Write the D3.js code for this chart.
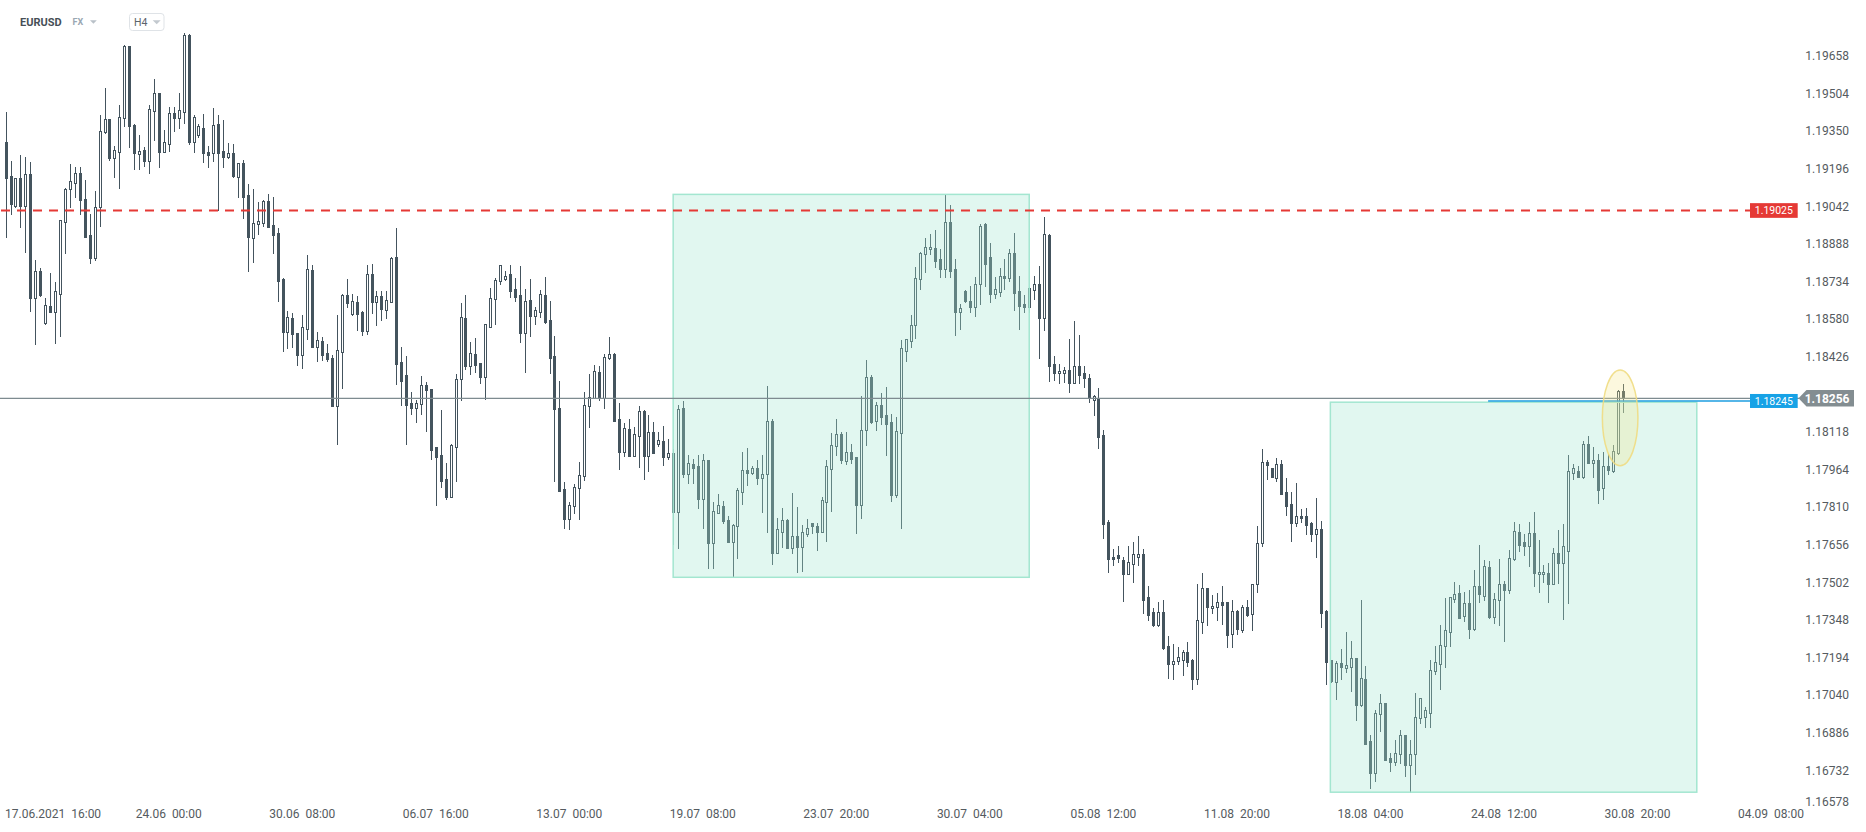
<!DOCTYPE html>
<html><head><meta charset="utf-8">
<script src="https://cdn.jsdelivr.net/npm/d3@7"></script>
<style>
html,body{margin:0;padding:0;background:#fff;overflow:hidden;}
svg{display:block;font-family:Roboto,"Noto Sans",sans-serif;}
</style></head><body>
<svg id="chart" width="1866" height="832"></svg>
<script>
const symbol = "EURUSD";
const market = "FX";
const interval = "H4";

const opens = [
1.19305,1.19167,1.19045,1.19157,1.19045,1.19174,1.18668,1.18776,1.18563,1.18634,
1.18611,1.18685,1.18976,1.19112,1.19139,1.19178,1.19072,1.18925,1.18832,1.19040,
1.19345,1.19399,1.19242,1.19264,1.19403,1.19699,1.19376,1.19258,1.19273,1.19229,
1.19434,1.19505,1.19266,1.19296,1.19423,1.19405,1.19430,1.19744,1.19307,1.19336,
1.19362,1.19265,1.19259,1.19380,1.19269,1.19243,1.19261,1.19164,1.19220,1.19089,
1.18913,1.18968,1.18975,1.19064,1.18965,1.18931,1.18744,1.18528,1.18583,1.18522,
1.18434,1.18541,1.18780,1.18467,1.18490,1.18440,1.18419,1.18225,1.18444,1.18677,
1.18602,1.18649,1.18609,1.18533,1.18767,1.18651,1.18673,1.18619,1.18651,1.18833,
1.18403,1.18350,1.18236,1.18215,1.18231,1.18309,1.18292,1.18055,1.18023,1.17925,
1.17853,1.18058,1.18333,1.18583,1.18389,1.18436,1.18399,1.18344,1.18549,1.18661,
1.18735,1.18743,1.18764,1.18704,1.18678,1.18525,1.18657,1.18594,1.18608,1.18678,
1.18575,1.18429,1.18215,1.17883,1.17760,1.17814,1.17887,1.17937,1.18223,1.18259,
1.18362,1.18256,1.18420,1.18438,1.18171,1.18038,1.18130,1.18021,1.18103,1.18204,
1.18021,1.18117,1.18070,1.18080,1.18017,1.18031,1.17792,1.18215,1.17947,1.17987,
1.17979,1.17842,1.18002,1.17665,1.17788,1.17814,1.17758,1.17669,1.17735,1.17873,
1.17961,1.17951,1.17969,1.17931,1.17944,1.18161,1.17623,1.17709,1.17756,1.17644,
1.17694,1.17648,1.17701,1.17744,1.17735,1.17709,1.17832,1.17967,1.18059,1.18108,
1.18000,1.18036,1.18014,1.17820,1.18128,1.18345,1.18161,1.18227,1.18186,1.18157,
1.17861,1.18115,1.18451,1.18492,1.18558,1.18743,1.18845,1.18866,1.18870,1.18825,
1.18784,1.18976,1.18784,1.18610,1.18694,1.18653,1.18631,1.18722,1.18968,1.18833,
1.18682,1.18693,1.18757,1.18750,1.18850,1.18694,1.18642,1.18628,1.18701,1.18723,
1.18586,1.18925,1.18395,1.18358,1.18358,1.18371,1.18320,1.18387,1.18358,1.18338,
1.18249,1.18256,1.18106,1.17748,1.17606,1.17613,1.17592,1.17538,1.17579,1.17607,
1.17617,1.17441,1.17380,1.17328,1.17380,1.17240,1.17167,1.17182,1.17186,1.17216,
1.17184,1.17108,1.17341,1.17478,1.17396,1.17400,1.17420,1.17420,1.17292,1.17384,
1.17309,1.17400,1.17371,1.17494,1.17662,1.17994,1.17969,1.17931,1.17986,1.17871,
1.17822,1.17747,1.17775,1.17773,1.17745,1.17702,1.17719,1.17385,1.17183,1.17096,
1.17171,1.17153,1.17157,1.17191,1.17001,1.17107,1.16851,1.16723,1.16962,1.17007,
1.16782,1.16765,1.16798,1.16876,1.16756,1.16798,1.16946,1.16952,1.16969,1.17138,
1.17169,1.17243,1.17300,1.17436,1.17457,1.17363,1.17416,1.17310,1.17486,1.17448,
1.17564,1.17362,1.17429,1.17494,1.17470,1.17596,1.17707,1.17666,1.17652,1.17703,
1.17535,1.17535,1.17539,1.17497,1.17621,1.17580,1.17629,1.17949,1.17957,1.17932,
1.18068,1.17992,1.18002,1.17887,1.17977,1.17960,1.18032,1.18285];

const highs = [
1.19427,1.19228,1.19160,1.19253,1.19245,1.19224,1.18823,1.18789,1.18666,1.18769,
1.18733,1.18988,1.19119,1.19216,1.19204,1.19204,1.19150,1.19010,1.19105,1.19416,
1.19527,1.19401,1.19288,1.19457,1.19703,1.19700,1.19378,1.19335,1.19285,1.19455,
1.19564,1.19508,1.19355,1.19449,1.19449,1.19505,1.19751,1.19747,1.19416,1.19381,
1.19420,1.19289,1.19445,1.19416,1.19396,1.19300,1.19298,1.19221,1.19232,1.19134,
1.19115,1.19058,1.19070,1.19092,1.19079,1.18952,1.18747,1.18613,1.18605,1.18524,
1.18599,1.18842,1.18801,1.18527,1.18505,1.18478,1.18433,1.18597,1.18685,1.18744,
1.18683,1.18675,1.18612,1.18801,1.18806,1.18695,1.18695,1.18695,1.18834,1.18954,
1.18464,1.18429,1.18281,1.18251,1.18347,1.18321,1.18295,1.18058,1.18208,1.17991,
1.18070,1.18355,1.18647,1.18679,1.18486,1.18501,1.18401,1.18561,1.18709,1.18747,
1.18803,1.18777,1.18802,1.18747,1.18798,1.18704,1.18745,1.18631,1.18698,1.18753,
1.18655,1.18511,1.18327,1.17912,1.17831,1.17905,1.17995,1.18282,1.18356,1.18392,
1.18390,1.18438,1.18507,1.18443,1.18237,1.18155,1.18171,1.18139,1.18225,1.18207,
1.18188,1.18159,1.18117,1.18141,1.18089,1.18047,1.18229,1.18245,1.18023,1.18006,
1.18023,1.18027,1.18005,1.17831,1.17864,1.17836,1.17774,1.17740,1.17889,1.18037,
1.18052,1.17978,1.18003,1.18023,1.18306,1.18171,1.17765,1.17806,1.17763,1.17868,
1.17810,1.17737,1.17761,1.17746,1.17746,1.17851,1.18002,1.18112,1.18171,1.18120,
1.18120,1.18067,1.18016,1.18265,1.18412,1.18351,1.18240,1.18276,1.18302,1.18191,
1.18179,1.18494,1.18500,1.18599,1.18792,1.18856,1.18912,1.18928,1.18945,1.18866,
1.19088,1.19047,1.18826,1.18642,1.18700,1.18715,1.18751,1.18971,1.18972,1.18891,
1.18751,1.18788,1.18826,1.18867,1.18932,1.18755,1.18679,1.18712,1.18757,1.18798,
1.18997,1.18927,1.18429,1.18395,1.18384,1.18499,1.18573,1.18515,1.18387,1.18355,
1.18270,1.18298,1.18126,1.17758,1.17638,1.17651,1.17606,1.17651,1.17666,1.17692,
1.17639,1.17487,1.17397,1.17422,1.17429,1.17281,1.17248,1.17236,1.17225,1.17258,
1.17188,1.17496,1.17541,1.17481,1.17451,1.17459,1.17487,1.17423,1.17430,1.17389,
1.17408,1.17430,1.17497,1.17733,1.18048,1.18003,1.17972,1.18012,1.18003,1.17930,
1.17872,1.17908,1.17803,1.17807,1.17748,1.17848,1.17754,1.17388,1.17186,1.17182,
1.17229,1.17299,1.17262,1.17194,1.17430,1.17160,1.16877,1.16980,1.17045,1.17010,
1.16802,1.16857,1.16898,1.16879,1.16857,1.17048,1.17030,1.16992,1.17183,1.17242,
1.17328,1.17438,1.17444,1.17502,1.17490,1.17461,1.17471,1.17553,1.17655,1.17594,
1.17590,1.17459,1.17598,1.17508,1.17635,1.17749,1.17741,1.17699,1.17749,1.17790,
1.17676,1.17573,1.17582,1.17643,1.17717,1.17741,1.18024,1.17987,1.17977,1.18081,
1.18100,1.18055,1.18027,1.18036,1.18027,1.18063,1.18290,1.18314];

const lows = [
1.18918,1.19012,1.19041,1.18959,1.18857,1.18615,1.18477,1.18673,1.18561,1.18608,
1.18481,1.18513,1.18851,1.19038,1.19081,1.19012,1.18915,1.18812,1.18823,1.18963,
1.19343,1.19232,1.19164,1.19119,1.19369,1.19287,1.19195,1.19195,1.19209,1.19180,
1.19314,1.19205,1.19264,1.19269,1.19351,1.19362,1.19382,1.19296,1.19266,1.19324,
1.19225,1.19205,1.19228,1.19026,1.19205,1.19239,1.19164,1.19079,1.18996,1.18779,
1.18815,1.18928,1.18963,1.18956,1.18852,1.18654,1.18451,1.18463,1.18464,1.18392,
1.18378,1.18497,1.18464,1.18410,1.18412,1.18410,1.18223,1.18070,1.18299,1.18631,
1.18597,1.18535,1.18515,1.18520,1.18606,1.18556,1.18576,1.18586,1.18649,1.18314,
1.18228,1.18070,1.18190,1.18160,1.18190,1.18123,1.18006,1.17821,1.17894,1.17843,
1.17850,1.17918,1.18251,1.18377,1.18354,1.18365,1.18320,1.18255,1.18546,1.18560,
1.18723,1.18741,1.18672,1.18656,1.18488,1.18365,1.18513,1.18559,1.18590,1.18563,
1.18361,1.17919,1.17875,1.17726,1.17722,1.17785,1.17763,1.17920,1.18140,1.18256,
1.18251,1.18218,1.18417,1.18162,1.17965,1.18021,1.18018,1.18018,1.17976,1.17927,
1.17960,1.18031,1.18062,1.17984,1.18009,1.17658,1.17644,1.17935,1.17911,1.17908,
1.17808,1.17726,1.17563,1.17563,1.17785,1.17747,1.17666,1.17526,1.17604,1.17823,
1.17901,1.17946,1.17905,1.17791,1.17709,1.17577,1.17621,1.17648,1.17641,1.17623,
1.17546,1.17550,1.17693,1.17705,1.17636,1.17707,1.17673,1.17795,1.18023,1.17992,
1.17988,1.17992,1.17705,1.17767,1.18066,1.18154,1.18127,1.18152,1.18025,1.17836,
1.17850,1.17726,1.18410,1.18467,1.18504,1.18702,1.18774,1.18845,1.18795,1.18754,
1.18754,1.18754,1.18516,1.18541,1.18649,1.18610,1.18594,1.18643,1.18717,1.18652,
1.18665,1.18676,1.18704,1.18736,1.18618,1.18540,1.18611,1.18611,1.18663,1.18422,
1.18537,1.18328,1.18332,1.18320,1.18324,1.18283,1.18317,1.18317,1.18304,1.18242,
1.18189,1.18054,1.17683,1.17546,1.17575,1.17584,1.17427,1.17535,1.17505,1.17573,
1.17375,1.17348,1.17325,1.17325,1.17228,1.17112,1.17105,1.17167,1.17124,1.17161,
1.17064,1.17087,1.17296,1.17329,1.17378,1.17349,1.17333,1.17239,1.17239,1.17292,
1.17300,1.17365,1.17309,1.17464,1.17653,1.17927,1.17932,1.17919,1.17863,1.17780,
1.17673,1.17734,1.17749,1.17702,1.17673,1.17608,1.17321,1.17087,1.17096,1.17025,
1.17107,1.17137,1.17059,1.16940,1.16997,1.16839,1.16662,1.16690,1.16895,1.16774,
1.16731,1.16756,1.16764,1.16711,1.16645,1.16719,1.16925,1.16911,1.16911,1.17128,
1.17067,1.17157,1.17243,1.17423,1.17355,1.17345,1.17276,1.17307,1.17423,1.17431,
1.17358,1.17337,1.17329,1.17263,1.17460,1.17594,1.17632,1.17616,1.17571,1.17489,
1.17464,1.17505,1.17423,1.17494,1.17501,1.17354,1.17419,1.17927,1.17932,1.17930,
1.17990,1.17935,1.17829,1.17845,1.17947,1.17956,1.18028,1.18201];

const closes = [
1.19160,1.19052,1.19157,1.19045,1.19174,1.18668,1.18776,1.18677,1.18637,1.18611,
1.18694,1.18985,1.19113,1.19145,1.19178,1.19066,1.18918,1.18832,1.19040,1.19350,
1.19399,1.19242,1.19272,1.19407,1.19699,1.19369,1.19262,1.19269,1.19229,1.19441,
1.19505,1.19266,1.19305,1.19423,1.19405,1.19436,1.19744,1.19307,1.19408,1.19370,
1.19262,1.19254,1.19376,1.19262,1.19243,1.19259,1.19168,1.19218,1.19082,1.18915,
1.18972,1.18984,1.19064,1.18958,1.18924,1.18736,1.18528,1.18587,1.18518,1.18434,
1.18546,1.18784,1.18467,1.18493,1.18434,1.18415,1.18225,1.18452,1.18677,1.18647,
1.18653,1.18602,1.18533,1.18767,1.18651,1.18673,1.18623,1.18660,1.18829,1.18396,
1.18328,1.18230,1.18217,1.18235,1.18309,1.18288,1.18044,1.18017,1.17918,1.17853,
1.18064,1.18337,1.18587,1.18389,1.18440,1.18393,1.18344,1.18559,1.18665,1.18741,
1.18801,1.18756,1.18697,1.18672,1.18525,1.18653,1.18594,1.18616,1.18682,1.18570,
1.18423,1.18211,1.17878,1.17760,1.17818,1.17892,1.17941,1.18227,1.18263,1.18367,
1.18256,1.18424,1.18438,1.18165,1.18038,1.18133,1.18021,1.18109,1.18204,1.18021,
1.18117,1.18033,1.18084,1.18017,1.18031,1.17792,1.18211,1.17947,1.17990,1.17972,
1.17842,1.18002,1.17665,1.17793,1.17818,1.17755,1.17669,1.17737,1.17881,1.17961,
1.17951,1.17969,1.17931,1.17948,1.18161,1.17623,1.17719,1.17756,1.17644,1.17694,
1.17648,1.17707,1.17723,1.17734,1.17709,1.17838,1.17977,1.18063,1.18108,1.18004,
1.18038,1.18008,1.17820,1.18128,1.18345,1.18158,1.18227,1.18179,1.18152,1.17861,
1.18124,1.18460,1.18497,1.18558,1.18747,1.18849,1.18874,1.18875,1.18819,1.18784,
1.18976,1.18778,1.18610,1.18624,1.18655,1.18631,1.18722,1.18960,1.18806,1.18682,
1.18702,1.18757,1.18747,1.18850,1.18689,1.18635,1.18631,1.18706,1.18723,1.18586,
1.18927,1.18390,1.18361,1.18368,1.18371,1.18320,1.18387,1.18353,1.18338,1.18256,
1.18264,1.18099,1.17741,1.17599,1.17597,1.17603,1.17538,1.17584,1.17617,1.17617,
1.17430,1.17370,1.17328,1.17380,1.17235,1.17167,1.17179,1.17195,1.17216,1.17178,
1.17108,1.17347,1.17478,1.17403,1.17405,1.17420,1.17411,1.17288,1.17384,1.17313,
1.17400,1.17369,1.17494,1.17662,1.17994,1.17982,1.17935,1.17986,1.17866,1.17816,
1.17747,1.17775,1.17767,1.17739,1.17702,1.17719,1.17378,1.17178,1.17100,1.17173,
1.17157,1.17164,1.17191,1.17001,1.17109,1.16842,1.16723,1.16966,1.17007,1.16776,
1.16768,1.16802,1.16876,1.16756,1.16798,1.16950,1.17027,1.16978,1.17142,1.17175,
1.17244,1.17306,1.17441,1.17456,1.17358,1.17416,1.17310,1.17486,1.17453,1.17568,
1.17362,1.17433,1.17494,1.17470,1.17601,1.17711,1.17657,1.17652,1.17703,1.17542,
1.17543,1.17543,1.17497,1.17621,1.17580,1.17650,1.17957,1.17969,1.17935,1.18068,
1.17992,1.18002,1.17882,1.17977,1.17964,1.18039,1.18285,1.18256];

const priceTicks = [1.16578,1.16732,1.16886,1.17040,1.17194,1.17348,1.17502,1.17656,1.17810,1.17964,
  1.18118,1.18272,1.18426,1.18580,1.18734,1.18888,1.19042,1.19196,1.19350,1.19504,1.19658];
const timeTickLabels = ["17.06.2021  16:00","24.06  00:00","30.06  08:00","06.07  16:00","13.07  00:00",
  "19.07  08:00","23.07  20:00","30.07  04:00","05.08  12:00","11.08  20:00","18.08  04:00",
  "24.08  12:00","30.08  20:00","04.09  08:00"];
const timeTickBars = [6,33,60,87,114,141,168,195,222,249,276,303,330,357];

const resistanceLevel = 1.19025;
const currentPrice = 1.18256;
const bidLevel = 1.18245;
const bidLevelFromBar = 299.8;
const zoneFromBars = [135.0, 267.9];
const zoneToBars = [207.0, 342.0];
const zoneTops = [1.19091, 1.18240];
const zoneBottoms = [1.17523, 1.16643];
const highlightBar = 326.5, highlightPrice = 1.18176, highlightBarRadius = 3.6, highlightPriceRadius = 0.00196;

// ---------- drawing ----------
const svg = d3.select("#chart");
svg.append("rect").attr("width",1866).attr("height",832).attr("fill","#fff");

const x = d3.scaleLinear().domain([0, 357]).range([5.6, 5.6 + 357*4.945]);
const y = d3.scaleLinear().domain([1.16578, 1.19658]).range([808.06, 55.92]);

const CANDLE = "#44545e";
const idx = d3.range(closes.length);
const cg = svg.append("g");
const cs = cg.selectAll("g").data(idx).join("g");
cs.append("line")
  .attr("x1", i => Math.round(x(i)) + 0.5).attr("x2", i => Math.round(x(i)) + 0.5)
  .attr("y1", i => Math.round(y(highs[i]))).attr("y2", i => Math.round(y(lows[i])) + 1)
  .attr("stroke", CANDLE).attr("stroke-width", 1);
cs.append("rect")
  .each(function(i){
    const X = Math.round(x(i));
    const yo = Math.round(y(opens[i])), yc = Math.round(y(closes[i]));
    const top = Math.min(yo, yc), bot = Math.max(yo, yc);
    const s = d3.select(this);
    if (closes[i] >= opens[i]) {
      s.attr("x", X - 0.5).attr("y", top + 0.5).attr("width", 2).attr("height", Math.max(0, bot - top - 1 + 1))
       .attr("fill", "#fff").attr("stroke", CANDLE).attr("stroke-width", 1);
    } else {
      s.attr("x", X - 1).attr("y", top).attr("width", 3).attr("height", Math.max(1, bot - top + 1))
       .attr("fill", CANDLE);
    }
  });

// zones
svg.append("g").selectAll("rect").data(d3.range(zoneTops.length)).join("rect")
  .attr("x", k => x(zoneFromBars[k])).attr("width", k => x(zoneToBars[k]) - x(zoneFromBars[k]))
  .attr("y", k => y(zoneTops[k])).attr("height", k => y(zoneBottoms[k]) - y(zoneTops[k]))
  .attr("fill", "#a3e6d0").attr("fill-opacity", 0.32)
  .attr("stroke", "#a3e6d0").attr("stroke-width", 1.5);

// current price line
svg.append("line").attr("x1", 0).attr("x2", 1799)
  .attr("y1", y(currentPrice)).attr("y2", y(currentPrice))
  .attr("stroke", "#7e8b90").attr("stroke-width", 1.2);
// bid line
svg.append("line").attr("x1", x(bidLevelFromBar)).attr("x2", 1750)
  .attr("y1", y(bidLevel)).attr("y2", y(bidLevel))
  .attr("stroke", "#1e9ee0").attr("stroke-width", 1.4);
// resistance dashed
svg.append("line").attr("x1", 1).attr("x2", 1750)
  .attr("y1", y(resistanceLevel)).attr("y2", y(resistanceLevel))
  .attr("stroke", "#e53935").attr("stroke-width", 2).attr("stroke-dasharray", "9,7");

// highlight ellipse
svg.append("ellipse")
  .attr("cx", x(highlightBar)).attr("cy", y(highlightPrice))
  .attr("rx", x(highlightBar + highlightBarRadius) - x(highlightBar))
  .attr("ry", y(highlightPrice - highlightPriceRadius) - y(highlightPrice))
  .attr("fill", "#f5e58a").attr("fill-opacity", 0.28)
  .attr("stroke", "#f0dc82").attr("stroke-opacity", 0.9).attr("stroke-width", 1.5);

// price tick labels
svg.append("g").selectAll("text").data(priceTicks).join("text")
  .attr("x", 1849).attr("y", d => Math.min(y(d), 802)).attr("dy", "0.35em")
  .attr("text-anchor", "end").attr("font-size", 12).attr("fill", "#555b60")
  .text(d => d.toFixed(5));

// level labels
function levelBox(price, x0, w, h, color, bold){
  const cy = y(price);
  svg.append("rect").attr("x", x0).attr("y", cy - h/2).attr("width", w).attr("height", h).attr("fill", color);
  svg.append("text").attr("x", x0 + w/2).attr("y", cy).attr("dy", "0.36em")
    .attr("text-anchor", "middle").attr("font-size", 10.5).attr("fill", "#fff")
    .text(price.toFixed(5));
}
levelBox(resistanceLevel, 1750, 47.7, 14.7, "#e53935");
levelBox(bidLevel, 1750, 47.7, 14, "#17a2e6");
{
  const cy = y(currentPrice);
  svg.append("path")
    .attr("d", `M1798.5,${cy} L1806.5,${cy-8.3} L1854,${cy-8.3} L1854,${cy+8.3} L1806.5,${cy+8.3} Z`)
    .attr("fill", "#838d91");
  svg.append("text").attr("x", 1849.5).attr("y", cy).attr("dy", "0.36em")
    .attr("text-anchor", "end").attr("font-size", 12).attr("font-weight", "bold").attr("fill", "#fff")
    .text(currentPrice.toFixed(5));
}

// time tick labels
svg.append("g").selectAll("text").data(d3.range(timeTickLabels.length)).join("text")
  .attr("x", k => x(timeTickBars[k])).attr("y", 818)
  .attr("text-anchor", "middle").attr("font-size", 12).attr("fill", "#555b60")
  .style("white-space", "pre")
  .text(k => timeTickLabels[k])
  .each(function(){
    const b = this.getBBox();
    if (b.x < 5) { d3.select(this).attr("text-anchor", "start").attr("x", 5); }
  });

// header
const hdr = svg.append("g");
hdr.append("text").attr("x", 20).attr("y", 22).attr("dy", "0.35em")
  .attr("font-size", 11).attr("font-weight", "bold").attr("fill", "#474f57").text(symbol);
hdr.append("text").attr("x", 72.5).attr("y", 22).attr("dy", "0.35em")
  .attr("font-size", 9).attr("font-weight", "bold").attr("fill", "#9aa7b3").text(market);
hdr.append("path").attr("d", "M90,20.3 L96.8,20.3 L93.4,23.8 Z").attr("fill", "#b9c1c8");
hdr.append("rect").attr("x", 129.5).attr("y", 13.5).attr("width", 34.5).attr("height", 17).attr("rx", 3)
  .attr("fill", "#fff").attr("stroke", "#dfe3e7");
hdr.append("text").attr("x", 134).attr("y", 22).attr("dy", "0.35em")
  .attr("font-size", 10.5).attr("fill", "#5b646c").text(interval);
hdr.append("path").attr("d", "M152.7,20.3 L160.7,20.3 L156.7,24.3 Z").attr("fill", "#c3c9cf");
</script>
</body></html>
